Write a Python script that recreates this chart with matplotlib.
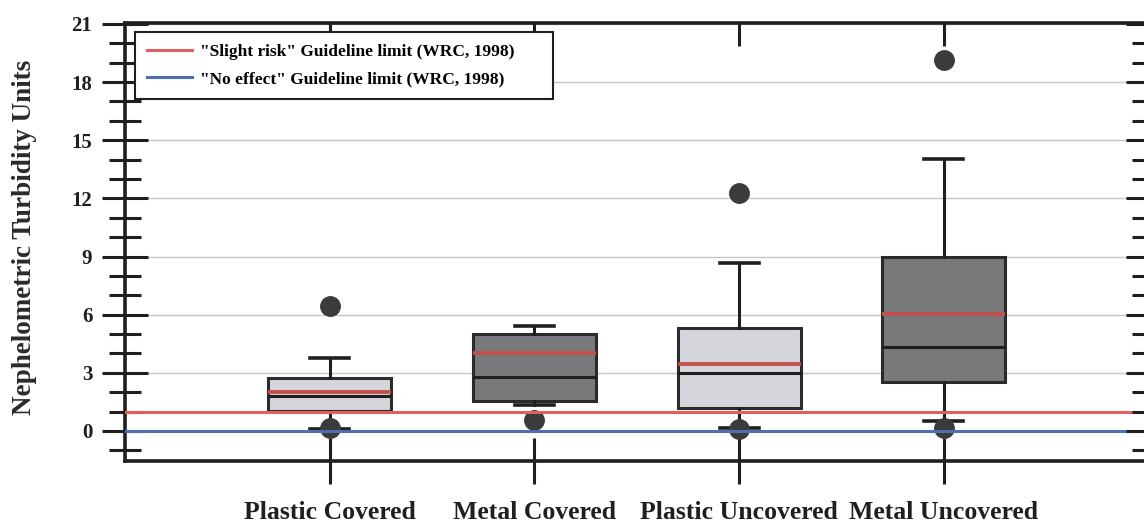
import matplotlib
matplotlib.use("Agg")
import matplotlib.pyplot as plt
import numpy as np
from matplotlib.ticker import MultipleLocator

# ---- data ----
categories = ["Plastic Covered", "Metal Covered", "Plastic Uncovered", "Metal Uncovered"]
q1 = [1.03, 1.56, 1.17, 2.53]
median = [1.82, 2.80, 2.98, 4.35]
q3 = [2.75, 5.00, 5.30, 8.99]
mean = [2.00, 4.04, 3.46, 6.02]
whisker_low = [0.10, 1.36, 0.14, 0.52]
whisker_high = [3.75, 5.42, 8.65, 14.02]
outliers = [[6.45, 0.14], [0.57], [12.26, 0.09], [19.14, 0.14]]
slight_risk_limit = 1.0
no_effect_limit = 0.0
y_ticks = [0, 3, 6, 9, 12, 15, 18, 21]

SERIF = ["Liberation Serif", "DejaVu Serif"]
plt.rcParams["font.family"] = SERIF
plt.rcParams["font.weight"] = "bold"

W, H = 1144, 522
fig = plt.figure(figsize=(W / 100, H / 100), dpi=100)
left_px, right_px, top_px, bottom_px = 125, 1148.5, 23, 461
rect = [left_px / W, 1 - bottom_px / H, (right_px - left_px) / W, (bottom_px - top_px) / H]
ax = fig.add_axes(rect)

stats = []
for i, c in enumerate(categories):
    stats.append(dict(label=c, q1=q1[i], med=median[i], q3=q3[i], mean=mean[i],
                      whislo=whisker_low[i], whishi=whisker_high[i],
                      fliers=np.array(outliers[i])))

dark = "#1f1f1f"
bp = ax.bxp(stats, positions=[1, 2, 3, 4], widths=0.6, capwidths=0.19,
            patch_artist=True, showmeans=True, meanline=True,
            boxprops=dict(edgecolor="#2b2b2b", linewidth=2.2),
            medianprops=dict(color=dark, linewidth=2.2),
            meanprops=dict(color="#c4504e", linewidth=2.8, linestyle="-"),
            whiskerprops=dict(color=dark, linewidth=2.2),
            capprops=dict(color=dark, linewidth=2.6),
            flierprops=dict(marker="o", markersize=14, markerfacecolor="#3b3b3b",
                            markeredgecolor="#3b3b3b"),
            zorder=2)
box_colors = ["#d4d6dc", "#78797b", "#d4d6dc", "#78797b"]
for patch, col in zip(bp["boxes"], box_colors):
    patch.set_facecolor(col)

ax.axhline(slight_risk_limit, color="#e05f5f", linewidth=2.2, zorder=3,
           label='"Slight risk" Guideline limit (WRC, 1998)')
ax.axhline(no_effect_limit, color="#4f6fb3", linewidth=2.2, zorder=3,
           label='"No effect" Guideline limit (WRC, 1998)')

xlim = (0, 5)
ylim = (-1.55, 21.05)
ax.set_xlim(*xlim)
ax.set_ylim(*ylim)
ax.set_xticks([1, 2, 3, 4])
ax.set_xticklabels(categories, fontsize=18.5, fontweight="bold", color=dark)
ax.set_yticks(y_ticks)
ax.set_yticklabels([str(v) for v in y_ticks], fontsize=15, fontweight="bold", color=dark)
ax.yaxis.set_minor_locator(MultipleLocator(1))
ax.tick_params(axis="y", which="major", direction="inout", length=33, width=2.2,
               pad=7, right=False, color=dark)
ax.tick_params(axis="y", which="minor", direction="inout", length=23, width=2.2,
               right=False, color=dark)
ax.tick_params(axis="x", which="major", direction="inout", length=33, width=2.2,
               pad=12, top=False, color=dark)
ax.tick_params(axis="x", which="minor", bottom=False, top=False)

for s in ax.spines.values():
    s.set_linewidth(2.6)
    s.set_color(dark)

ax.yaxis.grid(True, which="major", color="#c6c6c6", linewidth=1.0)
ax.set_axisbelow(True)

# right-hand ticks (inward only)
axr = ax.twinx()
axr.set_ylim(*ylim)
axr.set_yticks(y_ticks)
axr.yaxis.set_minor_locator(MultipleLocator(1))
axr.tick_params(axis="y", which="major", direction="in", length=16.5, width=2.2,
                left=False, right=True, labelleft=False, labelright=False, color=dark)
axr.tick_params(axis="y", which="minor", direction="in", length=12, width=2.2,
                left=False, right=True, color=dark)
for s in axr.spines.values():
    s.set_visible(False)

# top ticks (inward only)
axt = ax.twiny()
axt.set_xlim(*xlim)
axt.set_xticks([1, 2, 3, 4])
axt.tick_params(axis="x", which="major", direction="in", length=16.5, width=2.2,
                bottom=False, top=True, labelbottom=False, labeltop=False, color=dark)
axt.tick_params(axis="x", which="minor", bottom=False, top=False)
for s in axt.spines.values():
    s.set_visible(False)

ax.set_ylabel("Nephelometric Turbidity Units", fontsize=19.5, fontweight="bold", color="#2a2a2a")
ax.yaxis.set_label_coords((37 - left_px) / (right_px - left_px), 0.51)

handles, labels = ax.get_legend_handles_labels()
leg = fig.legend(handles, labels, loc="upper left",
                 bbox_to_anchor=(135 / W, 1 - 99 / H, (553 - 135) / W, (99 - 32) / H),
                 mode="expand", borderaxespad=0, fancybox=False, framealpha=1,
                 edgecolor=dark, prop=dict(family=SERIF, weight="bold", size=12.5),
                 handlelength=2.6, handletextpad=0.45, labelspacing=0.62, borderpad=0.7)
leg.get_frame().set_linewidth(1.5)

fig.savefig("out.png", dpi=100)
